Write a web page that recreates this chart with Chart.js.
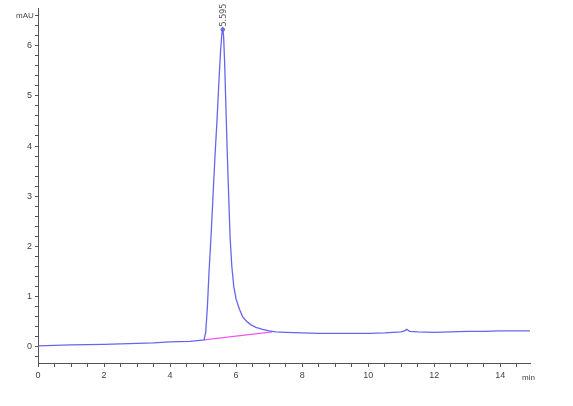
<!DOCTYPE html>
<html><head><meta charset="utf-8">
<script src="https://cdn.jsdelivr.net/npm/chart.js@4/dist/chart.umd.min.js"></script>
<style>html,body{margin:0;padding:0;background:#fff}#wrap{width:573px;height:406px}</style>
</head><body><div id="wrap"><canvas id="c" width="573" height="406"></canvas></div>
<script>
const times = [0,0.5,1,1.5,2,2.5,3,3.5,4,4.3,4.6,4.9,5.03,5.08,5.13,5.18,5.24,5.3,5.36,5.42,5.48,5.53,5.57,5.595,5.62,5.65,5.69,5.73,5.78,5.82,5.87,5.93,6.0,6.1,6.2,6.3,6.45,6.6,6.8,7.0,7.2,7.5,8.0,8.5,9.0,9.5,10.0,10.5,11.0,11.1,11.17,11.25,11.5,12.0,12.5,13.0,13.5,14.0,14.5,14.9];
const signal = [0.02,0.03,0.04,0.045,0.05,0.06,0.07,0.08,0.1,0.105,0.11,0.13,0.14,0.3,0.8,1.5,2.2,3.0,3.8,4.5,5.3,5.9,6.25,6.32,6.2,5.7,4.8,3.9,2.9,2.15,1.6,1.2,0.95,0.75,0.6,0.52,0.44,0.39,0.35,0.32,0.3,0.29,0.28,0.27,0.27,0.27,0.27,0.28,0.3,0.32,0.35,0.31,0.3,0.29,0.3,0.31,0.31,0.32,0.32,0.32];
const baselineT = [5.03, 7.09];
const baselineY = [0.14, 0.30];
const peakTime = 5.595, peakHeight = 6.32, peakLabel = "5.595";
const xTickLabels = [0,2,4,6,8,10,12,14];
const yTickLabels = [0,1,2,3,4,5,6];

const toXY = (xs, ys) => xs.map((x,i)=>({x, y: ys[i]}));

const peakLabelPlugin = {
  id:'peakLabel',
  afterDatasetsDraw(chart){
    const {ctx, scales:{x,y}} = chart;
    const px = x.getPixelForValue(peakTime), py = y.getPixelForValue(peakHeight);
    ctx.save();
    ctx.translate(px+1, py-3);
    ctx.rotate(-Math.PI/2);
    ctx.font = '8px "DejaVu Sans", sans-serif';
    ctx.fillStyle = '#555';
    ctx.textAlign = 'left';
    ctx.textBaseline = 'middle';
    ctx.fillText(peakLabel, 0, 0);
    ctx.restore();
    ctx.save();
    ctx.font = '8px "Liberation Sans", Arial, sans-serif';
    ctx.fillStyle = '#444';
    ctx.textAlign = 'left';
    ctx.textBaseline = 'middle';
    ctx.fillText('mAU', 16, y.getPixelForValue(6.6));
    ctx.fillText('min', x.right - 8, x.bottom + 15 - (x.bottom - x.top));
    ctx.restore();
  }
};

new Chart(document.getElementById('c'), {
  type:'line',
  data:{datasets:[
    {data: toXY(times, signal), borderColor:'rgba(85,85,235,0.9)', borderWidth:1.3, pointRadius:0, tension:0},
    {data: toXY(baselineT, baselineY), borderColor:'rgba(240,70,240,0.9)', borderWidth:1.2, pointRadius:0, tension:0},
    {data: [{x:peakTime, y:peakHeight}], borderColor:'rgba(80,80,200,0.9)', backgroundColor:'rgba(80,80,200,0.6)', pointRadius:1.8, showLine:false}
  ]},
  options:{
    responsive:false, animation:false,
    layout:{padding:{top:8, right:43, left:0, bottom:0}},
    plugins:{legend:{display:false}, tooltip:{enabled:false}},
    scales:{
      x:{type:'linear', min:0, max:14.9,
        ticks:{stepSize:0.5, includeBounds:false, autoSkip:false, maxRotation:0, padding:3,
          color:'#444', font:{size:9, family:'"Liberation Sans", Arial, sans-serif'},
          callback:(v)=> xTickLabels.includes(Math.round(v*100)/100) ? String(Math.round(v)) : ''},
        grid:{drawOnChartArea:false, drawTicks:true, tickLength:4, tickColor:'#555'},
        border:{display:true, color:'#555', width:1},
        afterFit:(s)=>{s.height = 43;}
      },
      y:{type:'linear', min:-0.32, max:6.74,
        ticks:{stepSize:0.2, includeBounds:false, autoSkip:false, padding:3,
          color:'#444', font:{size:9, family:'"Liberation Sans", Arial, sans-serif'},
          callback:(v)=> yTickLabels.includes(Math.round(v*100)/100) ? String(Math.round(v)) : ''},
        grid:{drawOnChartArea:false, drawTicks:true, tickLength:3, tickColor:'#555'},
        border:{display:true, color:'#555', width:1},
        afterFit:(s)=>{s.width = 38;}
      }
    }
  },
  plugins:[peakLabelPlugin]
});
</script></body></html>
